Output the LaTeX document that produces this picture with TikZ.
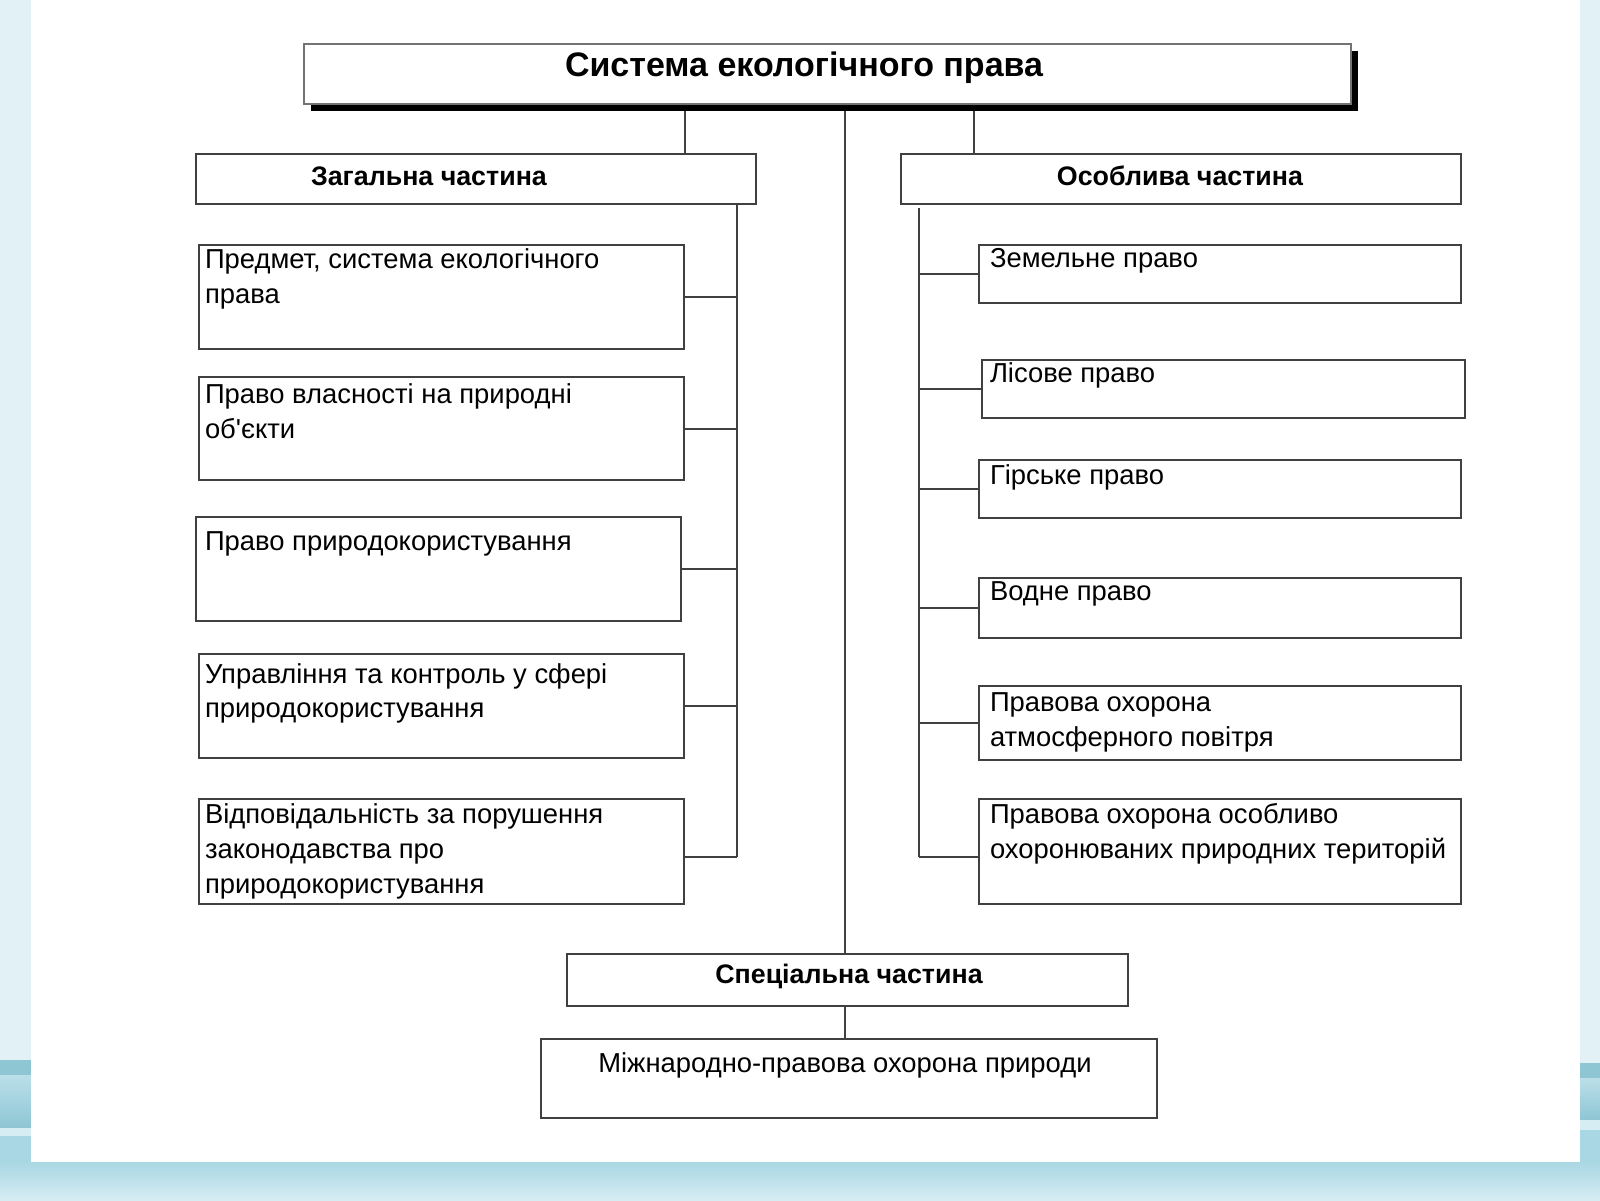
\documentclass[tikz,border=0pt]{standalone}
\usepackage{fontspec}
\setmainfont{Liberation Sans}[Ligatures=TeXOff]
\usetikzlibrary{fit}
\definecolor{bgpale}{HTML}{E2F1F6}
\definecolor{bgband}{HTML}{8EC6D4}
\definecolor{bgmid}{HTML}{A9D7E3}
\definecolor{bglow}{HTML}{D6EDF3}
\definecolor{linegray}{HTML}{404040}
\tikzset{
  box/.style={draw=linegray, line width=1pt, fill=white, inner sep=0pt, outer sep=0pt},
  conn/.style={draw=linegray, line width=1pt},
  bodytext/.style={inner sep=0pt, outer sep=0pt, align=left, anchor=base west,
    font=\fontsize{13.7pt}{17.35pt}\selectfont},
  headtext/.style={inner sep=0pt, outer sep=0pt, anchor=base,
    font=\fontsize{13.4pt}{17pt}\selectfont\bfseries},
  titletext/.style={inner sep=0pt, outer sep=0pt, anchor=base,
    font=\fontsize{17pt}{20pt}\selectfont\bfseries},
}
\begin{document}
\begin{tikzpicture}[x=0.5pt,y=-0.5pt]
\useasboundingbox (0,0) rectangle (1600,1200);
% background frame
\fill[bgpale] (0,0) rectangle (1600,1200);
\shade[top color=bgmid, bottom color=bglow] (0,1162) rectangle (1600,1200);
\fill[bgband] (0,1060) rectangle (31,1075);
\shade[top color=bgmid!80, bottom color=bgband] (0,1075) rectangle (31,1128);
\fill[bglow] (0,1128) rectangle (31,1136);
\fill[bgmid] (0,1136) rectangle (31,1162);
\fill[bgband] (1580,1063) rectangle (1600,1078);
\shade[top color=bgmid!80, bottom color=bgband] (1580,1078) rectangle (1600,1120);
\fill[bglow] (1580,1120) rectangle (1600,1130);
\fill[bgmid] (1580,1130) rectangle (1600,1162);
\fill[white] (31,0) rectangle (1580,1162);

% title with shadow
\fill[black] (311,51) rectangle (1358,111);
\node[box, draw=black!55, fit={(304,44) (1351,104)}] (title) {};
\node[titletext] (titlet) at (804,76) {Система екологічного права};

% headers
\node[box, fit={(196,154) (756,204)}] (zag) {};
\node[headtext, anchor=base west] (zagt) at (311,185) {Загальна частина};
\node[box, fit={(901,154) (1461,204)}] (osob) {};
\node[headtext] (osobt) at (1180,185) {Особлива частина};
\node[box, fit={(567,954) (1128,1006)}] (spec) {};
\node[headtext] (spect) at (849,983) {Спеціальна частина};
\node[box, fit={(541,1039) (1157,1118)}] (mizh) {};
\node[bodytext, anchor=base] (mizht) at (845,1072) {Міжнародно-правова охорона природи};

% left boxes (base anchor = baseline of last line)
\node[box, fit={(199,245) (684,349)}] (l1) {};
\node[bodytext] (l1t) at (205,303.4) {Предмет, система екологічного\\права};
\node[box, fit={(199,377) (684,480)}] (l2) {};
\node[bodytext] (l2t) at (205,438.1) {Право власності на природні\\об'єкти};
\node[box, fit={(196,517) (681,621)}] (l3) {};
\node[bodytext] (l3t) at (205,550.3) {Право природокористування};
\node[box, fit={(199,654) (684,758)}] (l4) {};
\node[bodytext] (l4t) at (205,717.7) {Управління та контроль у сфері\\природокористування};
\node[box, fit={(199,799) (684,904)}] (l5) {};
\node[bodytext] (l5t) at (205,893.2) {Відповідальність за порушення\\законодавства про\\природокористування};

% right boxes
\node[box, fit={(979,245) (1461,303)}] (r1) {};
\node[bodytext] (r1t) at (990,267.7) {Земельне право};
\node[box, fit={(982,360) (1465,418)}] (r2) {};
\node[bodytext] (r2t) at (990,382) {Лісове право};
\node[box, fit={(979,460) (1461,518)}] (r3) {};
\node[bodytext] (r3t) at (990,484) {Гірське право};
\node[box, fit={(979,578) (1461,638)}] (r4) {};
\node[bodytext] (r4t) at (990,600.3) {Водне право};
\node[box, fit={(979,686) (1461,760)}] (r5) {};
\node[bodytext] (r5t) at (990,746.2) {Правова охорона\\атмосферного повітря};
\node[box, fit={(979,799) (1461,904)}] (r6) {};
\node[bodytext] (r6t) at (990,858.5) {Правова охорона особливо\\охоронюваних природних територій};

% connectors from title
\coordinate (tz) at (685,111);
\coordinate (to) at (974,111);
\coordinate (tc) at (845,111);
\draw[conn] (tz) -- (tz |- zag.north);
\draw[conn] (to) -- (to |- osob.north);
\draw[conn] (tc) -- (tc |- spec.north);
\draw[conn] (spec.south -| tc) -- (mizh.north -| tc);

% left bus
\coordinate (lb) at (737,204);
\coordinate (lbe) at (737,857);
\draw[conn] (lb) -- (lbe);
\draw[conn] (l1.east) -- (l1.east -| lb);
\draw[conn] (l2.east) -- (l2.east -| lb);
\draw[conn] (l3.east) -- (l3.east -| lb);
\draw[conn] (l4.east) -- (l4.east -| lb);
\draw[conn] (l5.east |- lbe) -- (lbe);

% right bus
\coordinate (rb) at (919,208);
\coordinate (rbe) at (919,857);
\draw[conn] (rb) -- (rbe);
\draw[conn] (r1.west) -- (r1.west -| rb);
\draw[conn] (r2.west) -- (r2.west -| rb);
\draw[conn] (r3.west) -- (r3.west -| rb);
\draw[conn] (r4.west) -- (r4.west -| rb);
\draw[conn] (r5.west) -- (r5.west -| rb);
\draw[conn] (r6.west |- rbe) -- (rbe);
\end{tikzpicture}
\end{document}
